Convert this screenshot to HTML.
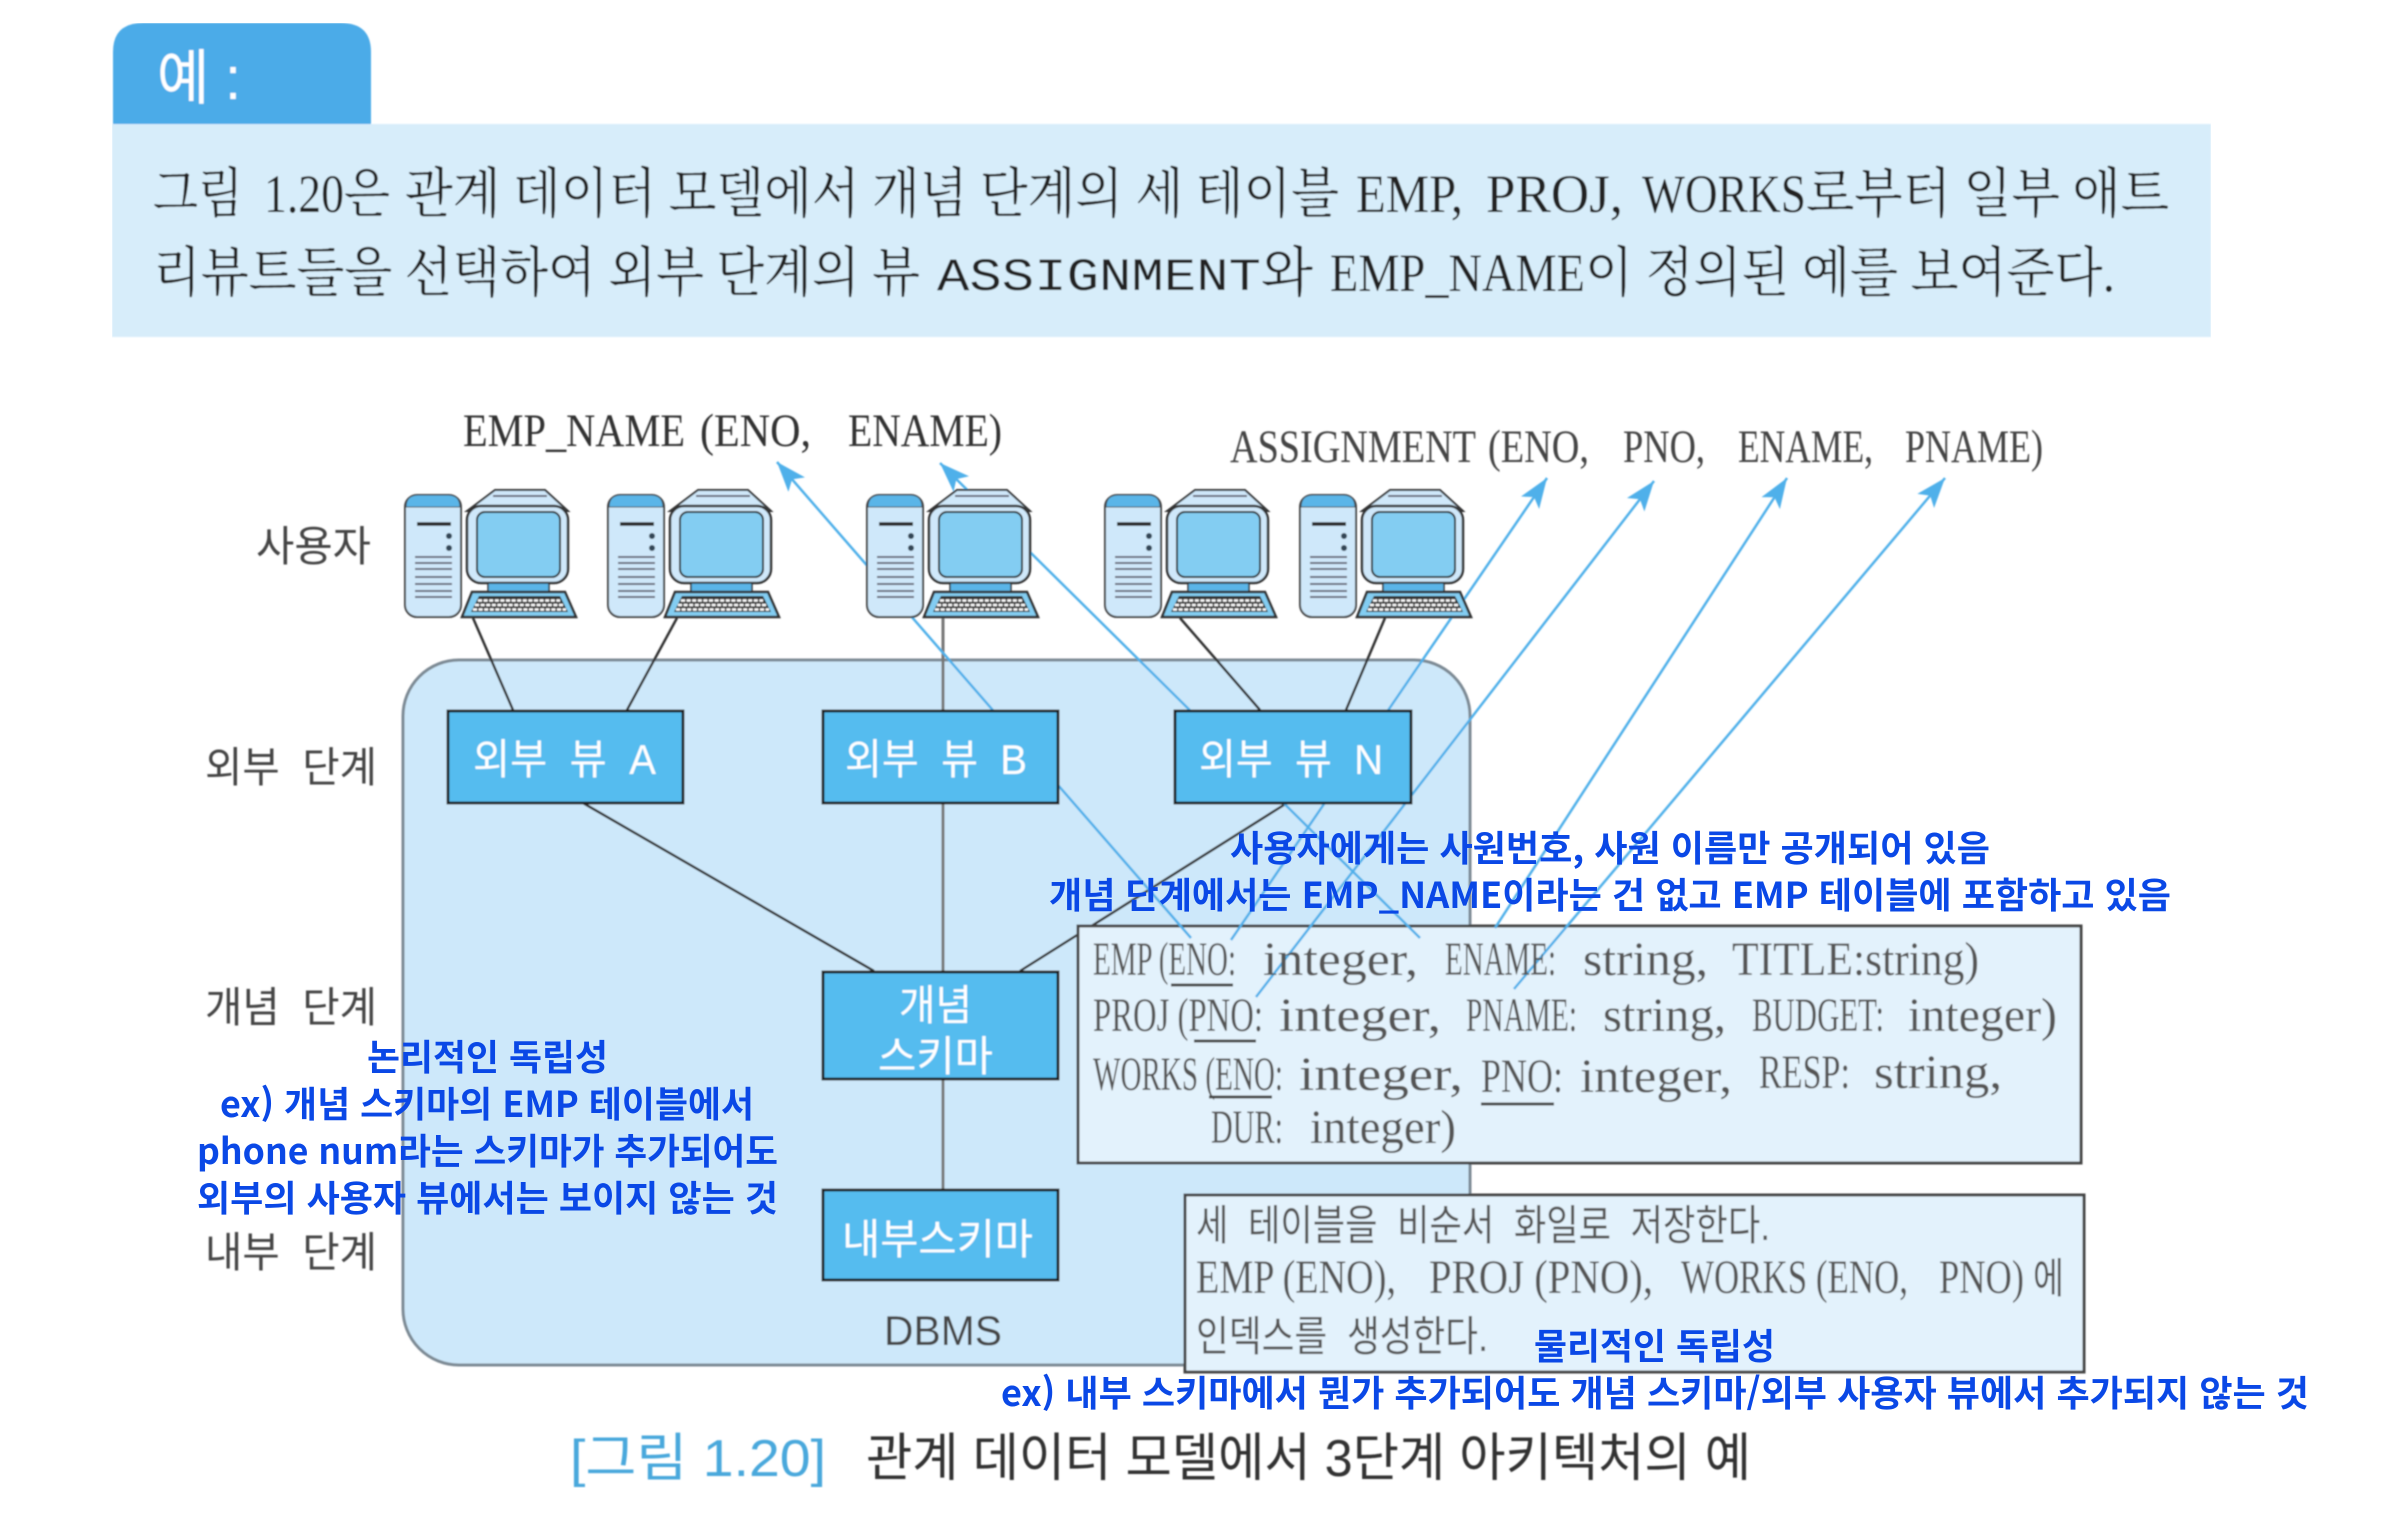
<!DOCTYPE html>
<html lang="ko"><head><meta charset="utf-8"><title>관계 데이터 모델에서 3단계 아키텍처의 예</title>
<style>
html,body{margin:0;padding:0;background:#fff;width:2396px;height:1532px;overflow:hidden}
svg{display:block}
text{white-space:pre}
.p{font-family:"Liberation Serif","Noto Serif CJK SC",serif;font-size:54px;fill:#222}
.pm{font-family:"Liberation Mono",monospace;font-size:46px;fill:#222}
.m{font-family:"Liberation Serif","Noto Sans CJK KR",serif;font-size:47px;fill:#333}
.s{font-family:"Liberation Serif","Noto Serif CJK SC",serif;font-size:48px;fill:#555}
.k{font-family:"Liberation Sans","Noto Sans CJK KR",sans-serif;font-size:42px;fill:#444}
.w{font-family:"Liberation Sans","Noto Sans CJK KR",sans-serif;font-size:42px;fill:#fff}
.b{font-family:"Noto Sans CJK KR","Liberation Sans",sans-serif;font-size:36px;font-weight:700;fill:#0a48e6}
.c{font-family:"Liberation Sans","Noto Sans CJK KR",sans-serif;font-size:52px;fill:#333}
.box{fill:#55bcef;stroke:#222;stroke-width:3}
.sb{fill:#e3f2fc;stroke:#444;stroke-width:3}
.dk{stroke:#333;stroke-width:2.5;fill:none}
.gr{stroke:#777;stroke-width:3;fill:none}
.ar{stroke:#4fb0ea;stroke-width:2.5;fill:none;marker-end:url(#ah)}
.ul{stroke:#444;stroke-width:3}
</style></head><body>
<svg width="2396" height="1532" viewBox="0 0 2396 1532" xmlns="http://www.w3.org/2000/svg">
<defs>
<marker id="ah" markerUnits="userSpaceOnUse" markerWidth="34" markerHeight="24" refX="30" refY="11" orient="auto">
<path d="M0,0 L30,11 L0,22 L7,11 Z" fill="#4fb0ea"/>
</marker>
<filter id="bl" x="0" y="0" width="100%" height="100%"><feGaussianBlur stdDeviation="0.7"/></filter>
<g id="pc">
<rect x="0" y="6" width="56" height="122" rx="12" fill="#cfe8fa" stroke="#444" stroke-width="2"/>
<path d="M1,18 Q1,6 13,6 H43 Q55,6 55,18 Z" fill="#5ab5e8" stroke="#444" stroke-width="1"/>
<line x1="12" y1="35" x2="46" y2="35" stroke="#222" stroke-width="3.5"/>
<circle cx="44" cy="47" r="3" fill="#345"/><circle cx="44" cy="59" r="3" fill="#345"/>
<path d="M10,68H47M10,74H47M10,80H47M10,88H47M10,95H47M10,102H47M10,108H47" stroke="#667" stroke-width="2"/>
<path d="M62,22 L90,1 H140 L163,22 Z" fill="#cfe8fa" stroke="#333" stroke-width="2"/>
<line x1="88" y1="7" x2="142" y2="7" stroke="#667" stroke-width="2"/>
<rect x="62" y="17" width="101" height="77" rx="14" fill="#cfe8fa" stroke="#333" stroke-width="2.5"/>
<rect x="72" y="23" width="83" height="65" rx="8" fill="#83cdf2" stroke="#333" stroke-width="2"/>
<rect x="83" y="94" width="61" height="9" fill="#5ab5e8" stroke="#333" stroke-width="1.5"/>
<path d="M67,103 H160 L171,128 H57 Z" fill="#83cdf2" stroke="#333" stroke-width="2.5"/>
<path d="M74,107 H155 L163,123 H66 Z" fill="#333"/>
<path d="M73,111.5H155M70,116H159M68,120.5H161" stroke="#fff" stroke-width="2.4" stroke-dasharray="4 1.6"/>
</g>
</defs>

<g filter="url(#bl)">
<!-- heading -->
<path d="M113,124 V52 Q113,23 143,23 H341 Q371,23 371,52 V124 Z" fill="#4cabe8"/>
<rect x="112" y="124" width="2099" height="213" fill="#d7edfa"/>
<text x="157" y="99" font-family="Liberation Sans,Noto Sans CJK KR,sans-serif" font-size="60" fill="#fff" textLength="84" lengthAdjust="spacingAndGlyphs">예 :</text>

<text class="p" x="153" y="212" textLength="90" lengthAdjust="spacingAndGlyphs">그림</text>
<text class="p" x="264" y="212" textLength="80" lengthAdjust="spacingAndGlyphs">1.20</text>
<text class="p" x="344" y="212" textLength="46" lengthAdjust="spacingAndGlyphs">은</text>
<text class="p" x="405" y="212" textLength="934" lengthAdjust="spacingAndGlyphs">관계 데이터 모델에서 개념 단계의 세 테이블</text>
<text class="p" x="1356" y="212" textLength="107" lengthAdjust="spacingAndGlyphs">EMP,</text>
<text class="p" x="1486" y="212" textLength="137" lengthAdjust="spacingAndGlyphs">PROJ,</text>
<text class="p" x="1642" y="212" textLength="164" lengthAdjust="spacingAndGlyphs">WORKS</text>
<text class="p" x="1806" y="212" textLength="363" lengthAdjust="spacingAndGlyphs">로부터 일부 애트</text>

<text class="p" x="153" y="291" textLength="767" lengthAdjust="spacingAndGlyphs">리뷰트들을 선택하여 외부 단계의 뷰</text>
<text class="pm" x="937" y="290" textLength="324" lengthAdjust="spacingAndGlyphs">ASSIGNMENT</text>
<text class="p" x="1261" y="291" textLength="52" lengthAdjust="spacingAndGlyphs">와</text>
<text class="p" x="1330" y="291" textLength="255" lengthAdjust="spacingAndGlyphs">EMP_NAME</text>
<text class="p" x="1585" y="291" textLength="530" lengthAdjust="spacingAndGlyphs">이 정의된 예를 보여준다.</text>

<!-- top labels -->
<text class="m" x="463" y="446" textLength="222" lengthAdjust="spacingAndGlyphs">EMP_NAME</text>
<text class="m" x="700" y="446" textLength="111" lengthAdjust="spacingAndGlyphs">(ENO,</text>
<text class="m" x="848" y="446" textLength="154" lengthAdjust="spacingAndGlyphs">ENAME)</text>
<text class="m" style="fill:#444" x="1230" y="462" textLength="246" lengthAdjust="spacingAndGlyphs">ASSIGNMENT</text>
<text class="m" style="fill:#444" x="1488" y="462" textLength="101" lengthAdjust="spacingAndGlyphs">(ENO,</text>
<text class="m" style="fill:#444" x="1623" y="462" textLength="82" lengthAdjust="spacingAndGlyphs">PNO,</text>
<text class="m" style="fill:#444" x="1738" y="462" textLength="135" lengthAdjust="spacingAndGlyphs">ENAME,</text>
<text class="m" style="fill:#444" x="1905" y="462" textLength="138" lengthAdjust="spacingAndGlyphs">PNAME)</text>

<!-- left labels -->
<text class="k" x="256" y="561" textLength="115" lengthAdjust="spacingAndGlyphs">사용자</text>
<text class="k" x="205" y="782" textLength="172" lengthAdjust="spacingAndGlyphs">외부  단계</text>
<text class="k" x="205" y="1022" textLength="172" lengthAdjust="spacingAndGlyphs">개념  단계</text>
<text class="k" x="205" y="1267" textLength="172" lengthAdjust="spacingAndGlyphs">내부  단계</text>

<!-- DBMS container -->
<rect x="403" y="660" width="1067" height="705" rx="56" fill="#cde8fa" stroke="#7d8a94" stroke-width="3"/>
<text class="k" x="884" y="1345" textLength="118" lengthAdjust="spacingAndGlyphs">DBMS</text>

<!-- connectors -->
<path class="dk" d="M473,618 L513,710 M677,618 L627,710 M1180,618 L1260,710 M1385,618 L1346,710 M583,803 L874,971 M1287,803 L1020,971"/>
<path class="gr" d="M943,618 V710 M943,803 V972 M943,1079 V1190"/>

<!-- schema boxes -->
<rect class="sb" x="1078" y="926" width="1003" height="237"/>
<rect class="sb" x="1185" y="1195" width="899" height="177"/>

<!-- blue arrows -->
<line class="ar" x1="1191" y1="938" x2="777" y2="462"/>
<line class="ar" x1="1420" y1="938" x2="940" y2="463"/>
<line class="ar" x1="1231" y1="940" x2="1547" y2="478"/>
<line class="ar" x1="1256" y1="997" x2="1654" y2="481"/>
<line class="ar" x1="1495" y1="928" x2="1787" y2="478"/>
<line class="ar" x1="1514" y1="989" x2="1945" y2="478"/>

<!-- computers -->
<use href="#pc" x="405" y="489"/>
<use href="#pc" x="608" y="489"/>
<use href="#pc" x="867" y="489"/>
<use href="#pc" x="1105" y="489"/>
<use href="#pc" x="1300" y="489"/>

<!-- view boxes -->
<rect class="box" x="448" y="711" width="235" height="92"/>
<rect class="box" x="823" y="711" width="235" height="92"/>
<rect class="box" x="1175" y="711" width="236" height="92"/>
<rect class="box" x="823" y="972" width="235" height="107"/>
<rect class="box" x="823" y="1190" width="235" height="90"/>
<text class="w" x="473" y="774" textLength="183" lengthAdjust="spacingAndGlyphs">외부  뷰  A</text>
<text class="w" x="845" y="774" textLength="182" lengthAdjust="spacingAndGlyphs">외부  뷰  B</text>
<text class="w" x="1199" y="774" textLength="184" lengthAdjust="spacingAndGlyphs">외부  뷰  N</text>
<text class="w" x="899" y="1020" textLength="73" lengthAdjust="spacingAndGlyphs">개념</text>
<text class="w" x="878" y="1071" textLength="115" lengthAdjust="spacingAndGlyphs">스키마</text>
<text class="w" x="842" y="1254" textLength="191" lengthAdjust="spacingAndGlyphs">내부스키마</text>

<!-- schema text -->
<text class="s" x="1093" y="975" textLength="143" lengthAdjust="spacingAndGlyphs">EMP (ENO:</text>
<text class="s" x="1263" y="975" textLength="155" lengthAdjust="spacingAndGlyphs">integer,</text>
<text class="s" x="1445" y="975" textLength="111" lengthAdjust="spacingAndGlyphs">ENAME:</text>
<text class="s" x="1583" y="975" textLength="125" lengthAdjust="spacingAndGlyphs">string,</text>
<text class="s" x="1732" y="975" textLength="247" lengthAdjust="spacingAndGlyphs">TITLE:string)</text>
<text class="s" x="1093" y="1031" textLength="170" lengthAdjust="spacingAndGlyphs">PROJ (PNO:</text>
<text class="s" x="1279" y="1031" textLength="162" lengthAdjust="spacingAndGlyphs">integer,</text>
<text class="s" x="1466" y="1031" textLength="111" lengthAdjust="spacingAndGlyphs">PNAME:</text>
<text class="s" x="1603" y="1031" textLength="123" lengthAdjust="spacingAndGlyphs">string,</text>
<text class="s" x="1752" y="1031" textLength="132" lengthAdjust="spacingAndGlyphs">BUDGET:</text>
<text class="s" x="1908" y="1031" textLength="149" lengthAdjust="spacingAndGlyphs">integer)</text>
<text class="s" x="1093" y="1090" textLength="190" lengthAdjust="spacingAndGlyphs">WORKS (ENO:</text>
<text class="s" x="1299" y="1090" textLength="164" lengthAdjust="spacingAndGlyphs">integer,</text>
<text class="s" x="1481" y="1092" textLength="82" lengthAdjust="spacingAndGlyphs">PNO:</text>
<text class="s" x="1580" y="1092" textLength="152" lengthAdjust="spacingAndGlyphs">integer,</text>
<text class="s" x="1759" y="1088" textLength="91" lengthAdjust="spacingAndGlyphs">RESP:</text>
<text class="s" x="1874" y="1088" textLength="128" lengthAdjust="spacingAndGlyphs">string,</text>
<text class="s" x="1211" y="1143" textLength="72" lengthAdjust="spacingAndGlyphs">DUR:</text>
<text class="s" x="1310" y="1143" textLength="146" lengthAdjust="spacingAndGlyphs">integer)</text>
<path class="ul" d="M1171,985 H1233 M1194,1041 H1256 M1209,1097 H1272 M1481,1104 H1554"/>

<!-- internal text -->
<text class="k" style="fill:#555" x="1196" y="1240" textLength="574" lengthAdjust="spacingAndGlyphs">세  테이블을  비순서  화일로  저장한다.</text>
<text class="s" x="1196" y="1293" textLength="200" lengthAdjust="spacingAndGlyphs">EMP (ENO),</text>
<text class="s" x="1429" y="1293" textLength="224" lengthAdjust="spacingAndGlyphs">PROJ (PNO),</text>
<text class="s" x="1681" y="1293" textLength="227" lengthAdjust="spacingAndGlyphs">WORKS (ENO,</text>
<text class="s" x="1939" y="1293" textLength="85" lengthAdjust="spacingAndGlyphs">PNO)</text>
<text class="k" style="fill:#555" x="2033" y="1293" textLength="31" lengthAdjust="spacingAndGlyphs">에</text>
<text class="k" style="fill:#555" x="1196" y="1351" textLength="292" lengthAdjust="spacingAndGlyphs">인덱스를  생성한다.</text>

<!-- caption -->
<text class="c" style="fill:#4aa8dc" x="570" y="1476" textLength="256" lengthAdjust="spacingAndGlyphs">[그림 1.20]</text>
<text class="c" x="866" y="1476" textLength="885" lengthAdjust="spacingAndGlyphs">관계 데이터 모델에서 3단계 아키텍처의 예</text>
</g>

<!-- blue annotations -->
<text class="b" x="1230" y="861" textLength="760" lengthAdjust="spacingAndGlyphs">사용자에게는 사원번호, 사원 이름만 공개되어 있음</text>
<text class="b" x="1049" y="908" textLength="1122" lengthAdjust="spacingAndGlyphs">개념 단계에서는 EMP_NAME이라는 건 없고 EMP 테이블에 포함하고 있음</text>
<text class="b" x="367" y="1070" textLength="241" lengthAdjust="spacingAndGlyphs">논리적인 독립성</text>
<text class="b" x="220" y="1117" textLength="534" lengthAdjust="spacingAndGlyphs">ex) 개념 스키마의 EMP 테이블에서</text>
<text class="b" x="197" y="1164" textLength="581" lengthAdjust="spacingAndGlyphs">phone num라는 스키마가 추가되어도</text>
<text class="b" x="197" y="1211" textLength="581" lengthAdjust="spacingAndGlyphs">외부의 사용자 뷰에서는 보이지 않는 것</text>
<text class="b" x="1534" y="1359" textLength="241" lengthAdjust="spacingAndGlyphs">물리적인 독립성</text>
<text class="b" x="1001" y="1406" textLength="1308" lengthAdjust="spacingAndGlyphs">ex) 내부 스키마에서 뭔가 추가되어도 개념 스키마/외부 사용자 뷰에서 추가되지 않는 것</text>
</svg>
</body></html>
